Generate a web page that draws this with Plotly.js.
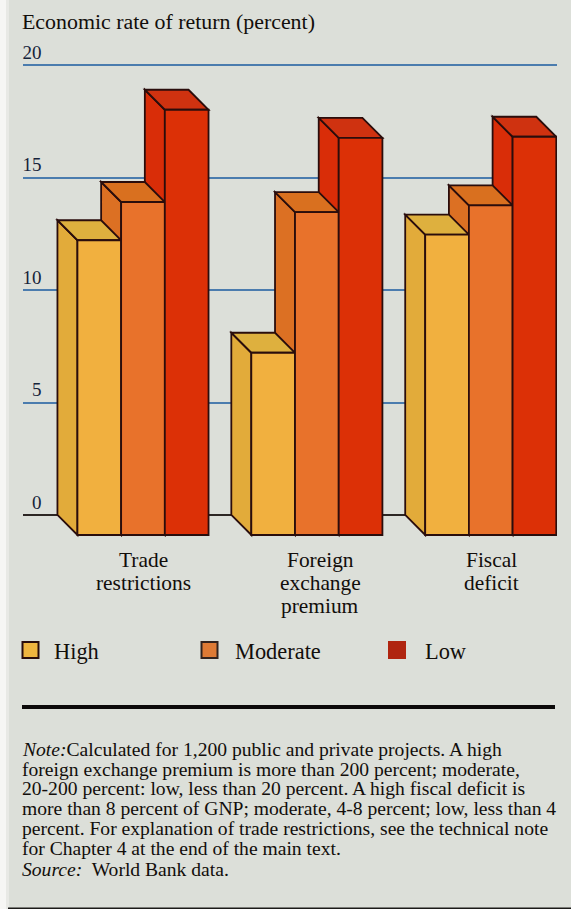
<!DOCTYPE html>
<html>
<head>
<meta charset="utf-8">
<script src="https://cdn.plot.ly/plotly-3.0.1.min.js"></script>
<style>html,body{margin:0;padding:0;background:#dcdfd9;overflow:hidden}</style>
</head>
<body>
<div id="chart" style="width:571px;height:909px"></div>
<script>
// ---- data ----
const categories = ['Trade restrictions', 'Foreign exchange premium', 'Fiscal deficit'];
const categoryLines = [['Trade', 'restrictions'], ['Foreign', 'exchange', 'premium'], ['Fiscal', 'deficit']];
const seriesNames = ['High', 'Moderate', 'Low'];
const highValues = [13.1, 8.1, 13.35];
const moderateValues = [14.8, 14.35, 14.65];
const lowValues = [18.9, 17.65, 17.7];
const yTicks = [0, 5, 10, 15, 20];
const noteLines = [
  '<i>Note:</i>Calculated for 1,200 public and private projects. A high',
  'foreign exchange premium is more than 200 percent; moderate,',
  '20-200 percent: low, less than 20 percent. A high fiscal deficit is',
  'more than 8 percent of GNP; moderate, 4-8 percent; low, less than 4',
  'percent. For explanation of trade restrictions, see the technical note',
  'for Chapter 4 at the end of the main text.',
  '<i>Source:</i>  World Bank data.'
];

// ---- styles ----
const W = 571, H = 909;
const FONT = '"Liberation Serif", serif';
const INK = '#120e0b';
const EDGE = '#2a0d0c';
const frontColors = ['#f1b03f', '#e8722b', '#dc3006'];
const sideColors = ['#e2ab3a', '#dc7023', '#d92d08'];
const topColors = ['#deb03e', '#d9701f', '#cf3210'];
const legendColors = ['#f0b53f', '#df7a35', '#b02510'];
const legendEdges = [EDGE, '#33231f', '#b02510'];

// axis geometry
const values = [highValues, moderateValues, lowValues];
const barW = 0.2513;
const xRange = [-0.690, 2.381];
const yRange = [-1.111, 20.222];
const depthX = 20 / 173.9;   // oblique offset of the box in x units
const depthY = 20 / 22.5;    // oblique offset of the box in y units
const px = v => 1 - v / H;

const barLeft = (g, s) => g + (s - 1.5) * barW;

const traces = seriesNames.map((name, s) => ({
  type: 'bar',
  name,
  x: categories.map((_, g) => g),
  y: values[s],
  base: categories.map(() => -depthY),
  marker: {color: frontColors[s], line: {color: EDGE, width: 1.8}},
  showlegend: false,
  hoverinfo: 'skip'
}));

const shapes = [];
// page edges
shapes.push({type: 'rect', xref: 'paper', yref: 'paper', x0: 0, x1: 6 / W, y0: 0, y1: 1, layer: 'below', line: {width: 0}, fillcolor: '#f6f6f4'});
shapes.push({type: 'rect', xref: 'paper', yref: 'paper', x0: 6 / W, x1: 9 / W, y0: 0, y1: 1, layer: 'below', line: {width: 0}, fillcolor: '#e8e9e5'});
// rule and page-bottom line
shapes.push({type: 'rect', xref: 'paper', yref: 'paper', x0: 22 / W, x1: 555 / W, y0: px(709), y1: px(705), line: {width: 0}, fillcolor: '#0c0a0a'});
shapes.push({type: 'rect', xref: 'paper', yref: 'paper', x0: 8 / W, x1: 1, y0: 0, y1: px(907.5), line: {width: 0}, fillcolor: '#1b1a18'});

// side and top faces, drawn from the back bar to the front bar
for (let s = 2; s >= 0; s--) {
  categories.forEach((_, g) => {
    const v = values[s][g], l = barLeft(g, s), r = l + barW;
    const path = pts => 'M' + pts.map(p => p[0] + ',' + p[1]).join('L') + 'Z';
    shapes.push({
      type: 'path', xref: 'x', yref: 'y', layer: 'between',
      path: path([[l - depthX, v], [l, v - depthY], [l, -depthY], [l - depthX, 0]]),
      fillcolor: sideColors[s], line: {color: EDGE, width: 1.8}
    });
    shapes.push({
      type: 'path', xref: 'x', yref: 'y', layer: 'between',
      path: path([[l - depthX, v], [r - depthX, v], [r, v - depthY], [l, v - depthY]]),
      fillcolor: topColors[s], line: {color: EDGE, width: 1.8}
    });
  });
}

// legend swatches
const legendSwatchX = [21.5, 200.5, 388];
const legendTextX = [53, 234, 423.5];
seriesNames.forEach((_, s) => {
  shapes.push({
    type: 'rect', xref: 'paper', yref: 'paper',
    x0: (legendSwatchX[s] + 1) / W, x1: (legendSwatchX[s] + 17) / W, y0: px(658), y1: px(642),
    fillcolor: legendColors[s], line: {color: legendEdges[s], width: 2}
  });
});

const annotations = [];
const textAt = (text, x, y, size, anchor) => annotations.push({
  text, xref: 'paper', yref: 'paper', x: x / W, y: px(y), xanchor: anchor || 'left', yanchor: 'middle',
  showarrow: false, align: anchor === 'center' ? 'center' : 'left', borderpad: 0,
  font: {family: FONT, size, color: INK}
});
// category labels, one line each
const labelCentres = [143.5, 320, 491.5];
categoryLines.forEach((lines, g) => lines.forEach((t, i) => textAt(t, labelCentres[g], 560 + i * 23, 21.4, 'center')));
// legend labels
seriesNames.forEach((t, s) => textAt(t, legendTextX[s], 651, 22.4));
// note
const noteY = [749.5, 769, 788.5, 808, 828, 848, 869];
noteLines.forEach((t, i) => textAt(t, 20.5, noteY[i], 19.6));

const layout = {
  width: W, height: H,
  margin: {l: 0, r: 0, t: 0, b: 0, pad: 0},
  paper_bgcolor: '#dcdfd9',
  plot_bgcolor: 'rgba(0,0,0,0)',
  showlegend: false,
  barmode: 'group',
  bargap: 0.246,
  bargroupgap: 0,
  title: {
    text: 'Economic rate of return (percent)',
    x: 22 / W, xanchor: 'left', xref: 'paper',
    y: px(21), yanchor: 'middle', yref: 'paper',
    pad: {l: 0, r: 0, t: 0, b: 0},
    font: {family: FONT, size: 21.9, color: INK}
  },
  xaxis: {
    domain: [23 / W, 557 / W], range: xRange, type: 'linear',
    showgrid: false, zeroline: false, showline: false, ticks: '', showticklabels: false,
    tickvals: categories.map((_, g) => g), fixedrange: true
  },
  yaxis: {
    domain: [px(540), px(60)], range: yRange, anchor: 'free', position: 41.5 / W,
    tickmode: 'array', tickvals: yTicks, ticktext: yTicks.map(String),
    ticks: '', showline: false, ticklabelshift: -13, ticklabelstandoff: 0,
    tickfont: {family: FONT, size: 19, color: '#16233a'},
    showgrid: true, gridcolor: '#4b7cae', gridwidth: 2,
    zeroline: true, zerolinecolor: '#2c2624', zerolinewidth: 2,
    automargin: false, fixedrange: true
  },
  shapes, annotations
};
Plotly.newPlot('chart', traces, layout, {displayModeBar: false, staticPlot: true});
</script>
</body>
</html>
